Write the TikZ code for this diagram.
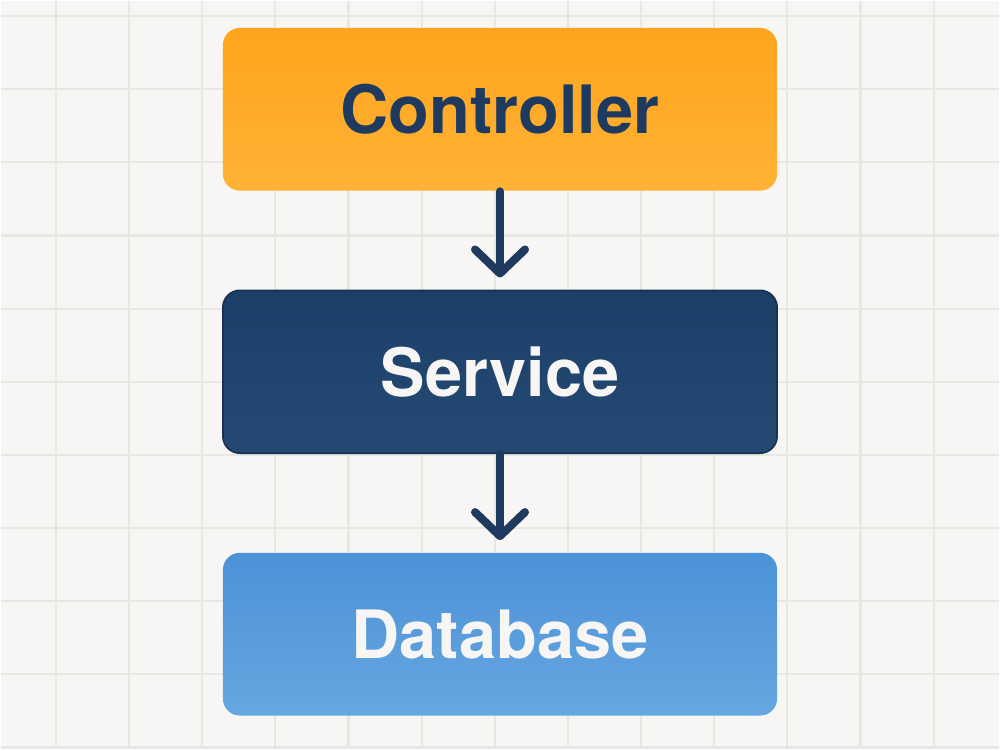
\documentclass[tikz,border=0pt]{standalone}
\usepackage{fontspec}
\setmainfont{TeX Gyre Heros}
\usepackage{xcolor}
\usetikzlibrary{arrows.meta,positioning}

\definecolor{paper}{HTML}{F7F6F4}
\definecolor{gridgray}{HTML}{E9E7E4}
\definecolor{navy}{HTML}{1F3A5F}
\definecolor{ctrltop}{HTML}{FFA41C}
\definecolor{ctrlbot}{HTML}{FFB236}
\definecolor{svctop}{HTML}{1C3F68}
\definecolor{svcbot}{HTML}{244A73}
\definecolor{dbtop}{HTML}{4C92D8}
\definecolor{dbbot}{HTML}{66A7E0}

\tikzset{
  layer/.style={rectangle, rounded corners=0.17cm, minimum width=5.55cm,
    minimum height=1.63cm, font=\fontsize{19}{23}\selectfont\bfseries},
  link/.style={navy, line width=2.3pt, line cap=round,
    -{Straight Barb[length=2.4mm, width=5mm, round]}, shorten >=0.12cm}
}

\begin{document}
\begin{tikzpicture}[x=0.01cm, y=-0.01cm]
% background and grid
\fill[paper] (0,0) rectangle (1000,750);
\foreach \i in {0,...,12} {
    \draw[gridgray, line width=0.6pt] ({55+73.3*\i},0) -- ++(0,750);
}
\foreach \j in {0,...,10} {
    \draw[gridgray, line width=0.6pt] (0,{15+73.3*\j}) -- ++(1000,0);
}

\node[layer, top color=ctrltop, bottom color=ctrlbot, text=navy] (ctrl) at (500,108.5) {Controller};
\node[layer, top color=svctop, bottom color=svcbot, draw=navy!85!black, line width=0.5pt, text=paper] (svc) at (500,371.5) {Service};
\node[layer, top color=dbtop, bottom color=dbbot, text=paper] (db) at (500,634.5) {Database};

\draw[link] (ctrl) -- (svc);
\draw[link] (svc) -- (db);
\end{tikzpicture}
\end{document}
